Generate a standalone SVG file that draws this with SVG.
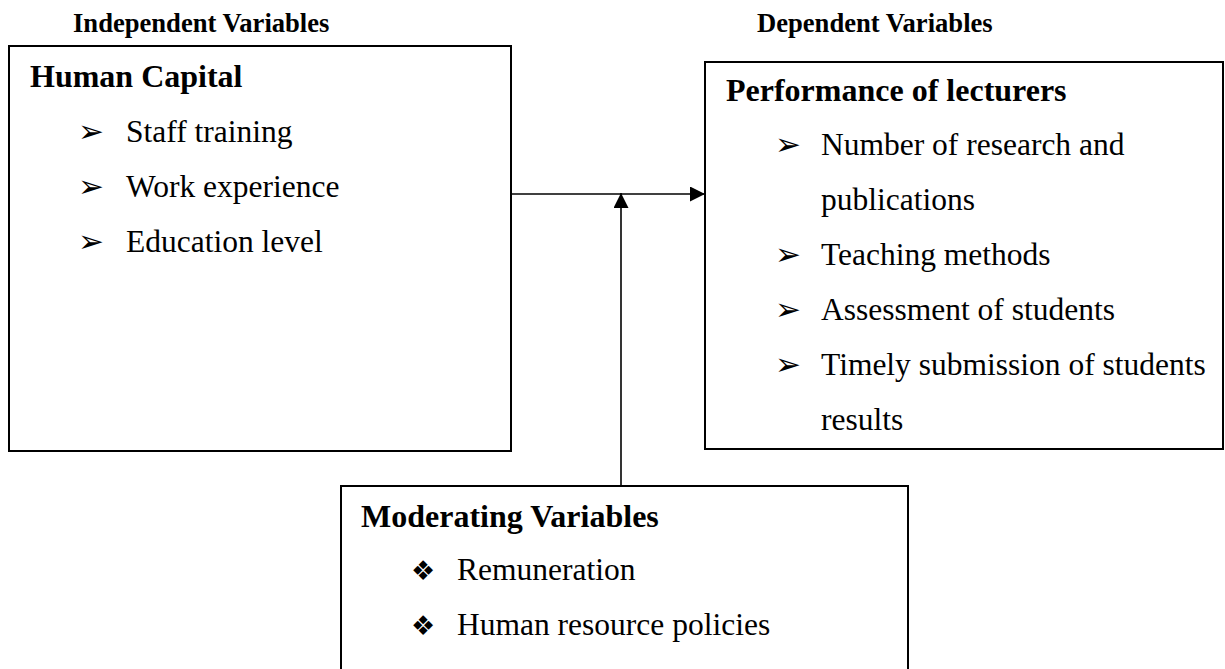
<svg xmlns="http://www.w3.org/2000/svg" width="1225" height="669" viewBox="0 0 1225 669">
<style>
.box{fill:#fff;stroke:#000;stroke-width:2}
.hdr{font-family:"Liberation Serif",serif;font-weight:bold;font-size:26.6px;fill:#000}
.ttl{font-family:"Liberation Serif",serif;font-weight:bold;font-size:32px;fill:#000}
.itm{font-family:"Liberation Serif",serif;font-size:31.5px;fill:#000}
.bul{font-family:"DejaVu Sans",sans-serif;font-size:31px;fill:#000}
.dia{font-family:"DejaVu Sans",sans-serif;font-size:27px;fill:#000}
.con{stroke:#000;stroke-width:1.6;fill:none}
</style>
<defs>
<marker id="ah" markerUnits="userSpaceOnUse" markerWidth="15" markerHeight="15" viewBox="0 0 15 15" refX="15" refY="7.5" orient="auto">
<path d="M0,0 L15,7.5 L0,15 z" fill="#000"/>
</marker>
</defs>
<rect width="1225" height="669" fill="#fff"/>
<text class="hdr" x="73" y="32">Independent Variables</text>
<text class="hdr" x="757" y="32">Dependent Variables</text>
<g id="human-capital">
<rect class="box" x="9" y="46" width="502" height="405"/>
<text class="ttl" x="30" y="87">Human Capital</text>
<text class="bul" x="78" y="142">➢</text><text class="itm" x="126" y="142">Staff training</text>
<text class="bul" x="78" y="197">➢</text><text class="itm" x="126" y="197">Work experience</text>
<text class="bul" x="78" y="252">➢</text><text class="itm" x="126" y="252">Education level</text>
</g>
<g id="performance">
<rect class="box" x="705" y="62" width="518" height="387"/>
<text class="ttl" x="726" y="101">Performance of lecturers</text>
<text class="bul" x="775" y="155">➢</text><text class="itm" x="821" y="155">Number of research and</text>
<text class="itm" x="821" y="210">publications</text>
<text class="bul" x="775" y="265">➢</text><text class="itm" x="821" y="265">Teaching methods</text>
<text class="bul" x="775" y="320">➢</text><text class="itm" x="821" y="320">Assessment of students</text>
<text class="bul" x="775" y="375">➢</text><text class="itm" x="821" y="375">Timely submission of students</text>
<text class="itm" x="821" y="430">results</text>
</g>
<g id="moderating">
<rect class="box" x="341" y="486" width="567" height="200"/>
<text class="ttl" x="361" y="527">Moderating Variables</text>
<text class="dia" x="411" y="580">❖</text><text class="itm" x="457" y="580">Remuneration</text>
<text class="dia" x="411" y="635">❖</text><text class="itm" x="457" y="635">Human resource policies</text>
</g>
<g id="connectors">
<line class="con" x1="511" y1="194" x2="705" y2="194" marker-end="url(#ah)"/>
<line class="con" x1="621" y1="486" x2="621" y2="193" marker-end="url(#ah)"/>
</g>
</svg>
